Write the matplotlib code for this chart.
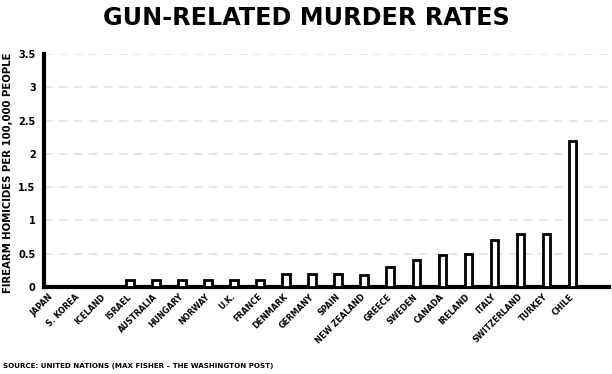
import matplotlib
matplotlib.use("Agg")
import matplotlib.pyplot as plt

countries = ["JAPAN", "S. KOREA", "ICELAND", "ISRAEL", "AUSTRALIA", "HUNGARY", "NORWAY",
             "U.K.", "FRANCE", "DENMARK", "GERMANY", "SPAIN", "NEW ZEALAND", "GREECE",
             "SWEDEN", "CANADA", "IRELAND", "ITALY", "SWITZERLAND", "TURKEY", "CHILE"]
rates = [0, 0, 0, 0.1, 0.1, 0.1, 0.1, 0.1, 0.1, 0.2, 0.2, 0.2, 0.18, 0.3,
         0.4, 0.48, 0.5, 0.7, 0.8, 0.8, 2.2]
yticks = [0, 0.5, 1, 1.5, 2, 2.5, 3, 3.5]
ytick_labels = ["0", "0.5", "1", "1.5", "2", "2.5", "3", "3.5"]

plt.rcParams['font.family'] = ['DejaVu Sans']

fig = plt.figure(figsize=(6.12, 3.74), dpi=100)
ax = fig.add_axes([44/612, 1-287/374, 1-44/612-3/612, (287-54)/374])

x = list(range(len(countries)))
ax.bar(x, rates, width=0.3, facecolor="white", edgecolor="black", linewidth=2, zorder=3)

ax.set_xlim(-0.31, 21.4)
ax.set_ylim(0, 3.5)
ax.set_yticks(yticks)
ax.set_yticklabels(ytick_labels, fontsize=7, fontweight='bold')
for y in yticks[1:]:
    ax.axhline(y, color="#e3e3e3", linestyle=(0, (5, 4)), linewidth=1.2, zorder=1)

ax.set_xticks(x)
ax.set_xticklabels(countries, rotation=45, ha='right', va='center',
                   rotation_mode='anchor', fontsize=5.8, fontweight='bold')
ax.tick_params(axis='x', length=0, pad=6)
ax.tick_params(axis='y', length=0, pad=6)

for s in ["top", "right"]:
    ax.spines[s].set_visible(False)
ax.spines["left"].set_linewidth(3)
ax.spines["bottom"].set_linewidth(3)

ax.set_ylabel("FIREARM HOMICIDES PER 100,000 PEOPLE", fontsize=7.3, fontweight='bold')
ax.yaxis.set_label_coords(-31/566, 0.49)

fig.text(0.5, 1-18/374, "GUN-RELATED MURDER RATES", ha='center', va='center',
         fontsize=17.2, fontweight='bold')
fig.text(3/612, 1-366/374, "SOURCE: UNITED NATIONS (MAX FISHER \u2013 THE WASHINGTON POST)",
         ha='left', va='center', fontsize=5.1, fontweight='bold')

fig.savefig("out.png", dpi=100)
